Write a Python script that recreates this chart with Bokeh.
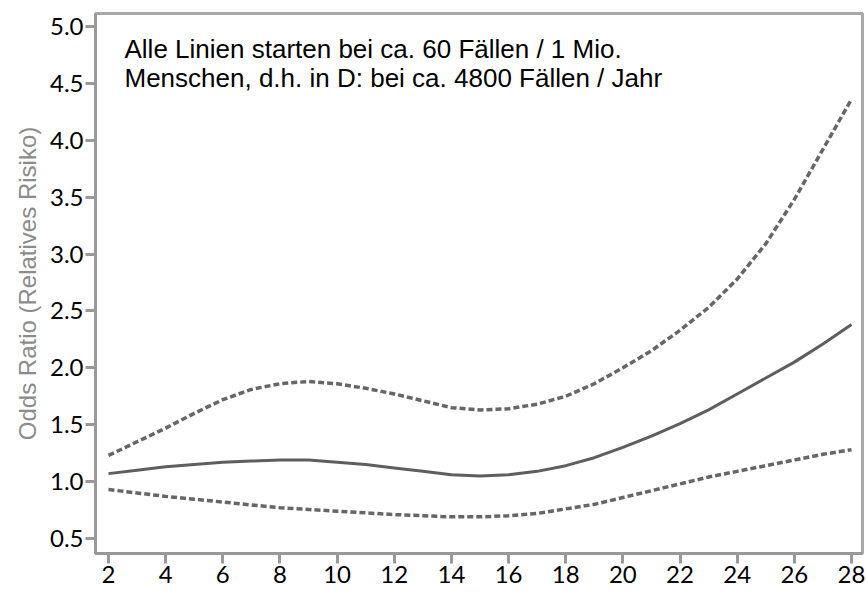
from bokeh.plotting import figure
from bokeh.models import FixedTicker, PrintfTickFormatter, Label, Range1d
from bokeh.embed import file_html
from bokeh.resources import INLINE

# Data
x_vals = [2, 3, 4, 5, 6, 7, 8, 9, 10, 11, 12, 13, 14, 15, 16, 17, 18, 19, 20,
          21, 22, 23, 24, 25, 26, 27, 28]
upper_ci = [1.23, 1.35, 1.47, 1.60, 1.72, 1.81, 1.86, 1.88, 1.86, 1.82, 1.77,
            1.71, 1.65, 1.63, 1.64, 1.68, 1.75, 1.86, 2.00, 2.15, 2.33, 2.53,
            2.78, 3.09, 3.48, 3.92, 4.36]
odds_ratio = [1.07, 1.10, 1.13, 1.15, 1.17, 1.18, 1.19, 1.19, 1.17, 1.15, 1.12,
              1.09, 1.06, 1.05, 1.06, 1.09, 1.14, 1.21, 1.30, 1.40, 1.51, 1.63,
              1.77, 1.91, 2.05, 2.21, 2.38]
lower_ci = [0.93, 0.90, 0.87, 0.845, 0.82, 0.795, 0.77, 0.755, 0.74, 0.725,
            0.71, 0.70, 0.69, 0.69, 0.70, 0.72, 0.76, 0.80, 0.86, 0.92, 0.98,
            1.04, 1.09, 1.14, 1.19, 1.24, 1.28]

x_ticks = [2, 4, 6, 8, 10, 12, 14, 16, 18, 20, 22, 24, 26, 28]
y_ticks = [0.5, 1.0, 1.5, 2.0, 2.5, 3.0, 3.5, 4.0, 4.5, 5.0]

y_title = "Odds Ratio (Relatives Risiko)"
note_line1 = "Alle Linien starten bei ca. 60 Fällen / 1 Mio."
note_line2 = "Menschen, d.h. in D: bei ca. 4800 Fällen / Jahr"

p = figure(width=866, height=593, output_backend="svg", toolbar_location=None,
           x_range=Range1d(1.545, 28.385), y_range=Range1d(0.368, 5.114),
           min_border_left=95, min_border_top=13, min_border_right=4,
           min_border_bottom=40)

p.background_fill_color = "white"
p.border_fill_color = "white"
p.outline_line_color = "#a8a8a8"
p.outline_line_width = 3
p.xgrid.visible = False
p.ygrid.visible = False

for ax in (p.xaxis, p.yaxis):
    ax.axis_line_color = "#999999"
    ax.axis_line_width = 3
    ax.major_tick_line_color = "#999999"
    ax.major_tick_line_width = 3
    ax.major_tick_out = 10
    ax.major_tick_in = 0
    ax.minor_tick_line_color = None
    ax.major_label_text_font = "Lato"
    ax.major_label_text_font_size = "24px"
    ax.major_label_text_color = "black"
    ax.major_label_standoff = 2

p.xaxis.ticker = FixedTicker(ticks=x_ticks)
p.yaxis.ticker = FixedTicker(ticks=y_ticks)
p.yaxis.formatter = PrintfTickFormatter(format="%.1f")

p.yaxis.axis_label = y_title
p.yaxis.axis_label_text_font = "Liberation Sans"
p.yaxis.axis_label_text_font_size = "24px"
p.yaxis.axis_label_text_font_style = "normal"
p.yaxis.axis_label_text_color = "#8c8c8c"
p.yaxis.axis_label_standoff = 6

p.line(x_vals, upper_ci, line_color="#666666", line_width=3.5, line_dash="6 3")
p.line(x_vals, lower_ci, line_color="#666666", line_width=3.5, line_dash="6 3")
p.line(x_vals, odds_ratio, line_color="#5e5e5e", line_width=3)

p.add_layout(Label(x=2.56, y=4.80, text=note_line1, text_font="Liberation Sans",
                   text_font_size="26px", text_color="black",
                   text_baseline="alphabetic", text_align="left"))
p.add_layout(Label(x=2.56, y=4.55, text=note_line2, text_font="Liberation Sans",
                   text_font_size="26px", text_color="black",
                   text_baseline="alphabetic", text_align="left"))

open("out.html", "w").write(file_html(p, INLINE))
